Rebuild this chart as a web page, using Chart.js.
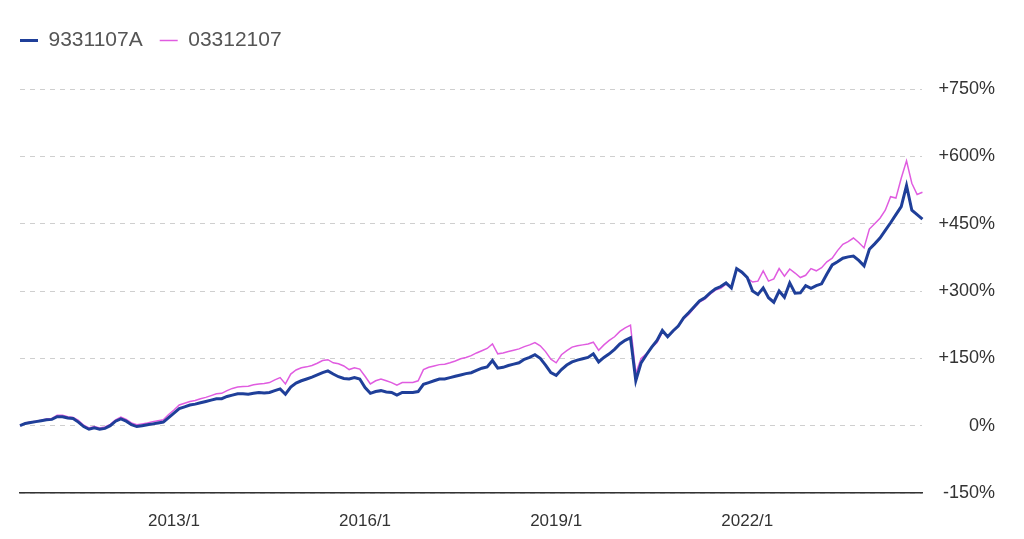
<!DOCTYPE html>
<html>
<head>
<meta charset="utf-8">
<script src="https://cdn.jsdelivr.net/npm/chart.js@4/dist/chart.umd.min.js"></script>
<style>
  html, body { margin: 0; padding: 0; background: #fff; }
  #wrap { width: 1024px; height: 539px; position: relative; }
</style>
</head>
<body>
<div id="wrap"><canvas id="fundChart"></canvas></div>
<script>
// 月次ラベル 2010/8 〜 2024/10
const startYear = 2010, startMonth = 8, monthCount = 171;
const months = [];
for (let i = 0; i < monthCount; i++) {
  const t = startMonth - 1 + i;
  months.push((startYear + Math.floor(t / 12)) + '/' + (t % 12 + 1));
}

const xTickLabels = ['2013/1', '2016/1', '2019/1', '2022/1'];
const yTicks = [-150, 0, 150, 300, 450, 600, 750];

// 9331107A (%)
const fundA = [
  0, 5, 7, 9, 11, 13, 14, 20, 20, 17,
  16, 8, -2, -8, -5, -8, -6, 0, 10, 15,
  10, 2, -2, 0, 2, 4, 6, 8, 18, 28,
  38, 42, 46, 48, 51, 54, 57, 60, 60, 65,
  68, 71, 71, 70, 72, 74, 73, 74, 78, 82,
  70, 86, 95, 100, 104, 108, 113, 118, 122, 115,
  109, 105, 104, 107, 104, 85, 72, 76, 78, 75,
  74, 68, 74, 74, 74, 76, 92, 96, 100, 104,
  104, 107, 110, 113, 116, 118, 123, 128, 131, 145,
  128, 130, 134, 137, 140, 148, 152, 158, 150, 135,
  118, 112, 125, 135, 142, 146, 149, 152, 160, 142,
  152, 160, 170, 182, 190, 196, 100, 140, 158, 175,
  190, 212, 198, 211, 222, 240, 252, 265, 278, 285,
  296, 305, 310, 318, 307, 350, 342, 330, 300, 292,
  307, 285, 275, 300, 286, 318, 295, 296, 312, 306,
  312, 316, 338, 358, 365, 373, 376, 378, 368, 356,
  393, 405, 418, 435, 452, 470, 488, 535, 480, 470,
  460
];

// 03312107 (%)
const fundB = [
  0, 6, 8, 10, 12, 15, 16, 23, 23, 20,
  18, 12, 1, -5, -2, -5, -3, 3, 13, 19,
  14, 6, 2, 4, 6, 9, 11, 13, 25, 35,
  46, 50, 54, 56, 60, 63, 67, 71, 72, 78,
  83, 86, 87, 88, 91, 93, 94, 96, 102, 107,
  93, 115, 124, 129, 131, 134, 139, 145, 147, 140,
  138, 133, 125, 129, 126, 110, 93, 100, 104, 100,
  96, 90, 96, 96, 96, 100, 125, 130, 133, 136,
  137, 140, 144, 149, 152, 156, 162, 167, 172, 182,
  160, 162, 165, 168, 171, 176, 180, 185, 178, 165,
  148, 140, 158, 167, 175, 178, 180, 182, 186, 168,
  180, 190, 198, 210, 218, 224, 116, 150, 160, 174,
  185, 208, 198, 210, 222, 238, 248, 262, 275, 282,
  293, 302, 306, 315, 307, 349, 340, 329, 320, 322,
  345, 322, 327, 350, 333, 349, 340, 330, 335, 350,
  345, 352, 365, 373, 390, 404, 410, 418, 408, 396,
  438, 450, 462, 480, 510, 507, 551, 590, 540, 515,
  520
];

// 凡例の位置と描画エリアとの間隔を調整
const legendGap = {
  id: 'legendGap',
  beforeInit(chart) {
    const origFit = chart.legend.fit;
    chart.legend.fit = function () {
      origFit.bind(chart.legend)();
      this.height += 28;
    };
  },
  afterLayout(chart) {
    chart.legend.left = 3;
  }
};

const ctx = document.getElementById('fundChart').getContext('2d');

const chart = new Chart(ctx, {
  type: 'line',
  data: {
    labels: months,
    datasets: [
      {
        label: '9331107A',
        data: fundA,
        borderColor: '#1f3f99',
        backgroundColor: '#1f3f99',
        borderWidth: 3,
        pointRadius: 0,
        tension: 0,
        order: 0
      },
      {
        label: '03312107',
        data: fundB,
        borderColor: '#e05ce0',
        backgroundColor: '#e05ce0',
        borderWidth: 1.5,
        pointRadius: 0,
        tension: 0,
        order: 1
      }
    ]
  },
  options: {
    responsive: true,
    maintainAspectRatio: false,
    animation: false,
    layout: { padding: { left: 20, right: 29, top: 13, bottom: 0 } },
    plugins: {
      legend: {
        position: 'top',
        align: 'start',
        labels: {
          usePointStyle: true,
          pointStyle: 'line',
          pointStyleWidth: 18,
          padding: 17,
          color: '#555',
          font: { family: 'Liberation Sans, Arial, sans-serif', size: 21 }
        }
      },
      tooltip: { enabled: false }
    },
    scales: {
      x: {
        grid: { display: false },
        border: { display: true, color: '#333', width: 1.5 },
        afterFit: axis => { axis.height = 46; },
        ticks: {
          autoSkip: false,
          maxRotation: 0,
          padding: 10,
          color: '#333',
          font: { family: 'Liberation Sans, Arial, sans-serif', size: 17 },
          callback: function (value) {
            const lab = this.getLabelForValue(value);
            return xTickLabels.includes(lab) ? lab : null;
          }
        }
      },
      y: {
        position: 'right',
        min: yTicks[0],
        max: yTicks[yTicks.length - 1],
        afterBuildTicks: axis => { axis.ticks = yTicks.map(v => ({ value: v })); },
        grid: { color: '#cfcfcf', lineWidth: 1, drawTicks: false },
        border: { display: false, dash: [5, 5] },
        ticks: {
          crossAlign: 'far',
          padding: 8,
          color: '#333',
          font: { family: 'Liberation Sans, Arial, sans-serif', size: 18 },
          callback: v => (v > 0 ? '+' + v + '%' : v + '%')
        }
      }
    }
  },
  plugins: [legendGap]
});
</script>
</body>
</html>
